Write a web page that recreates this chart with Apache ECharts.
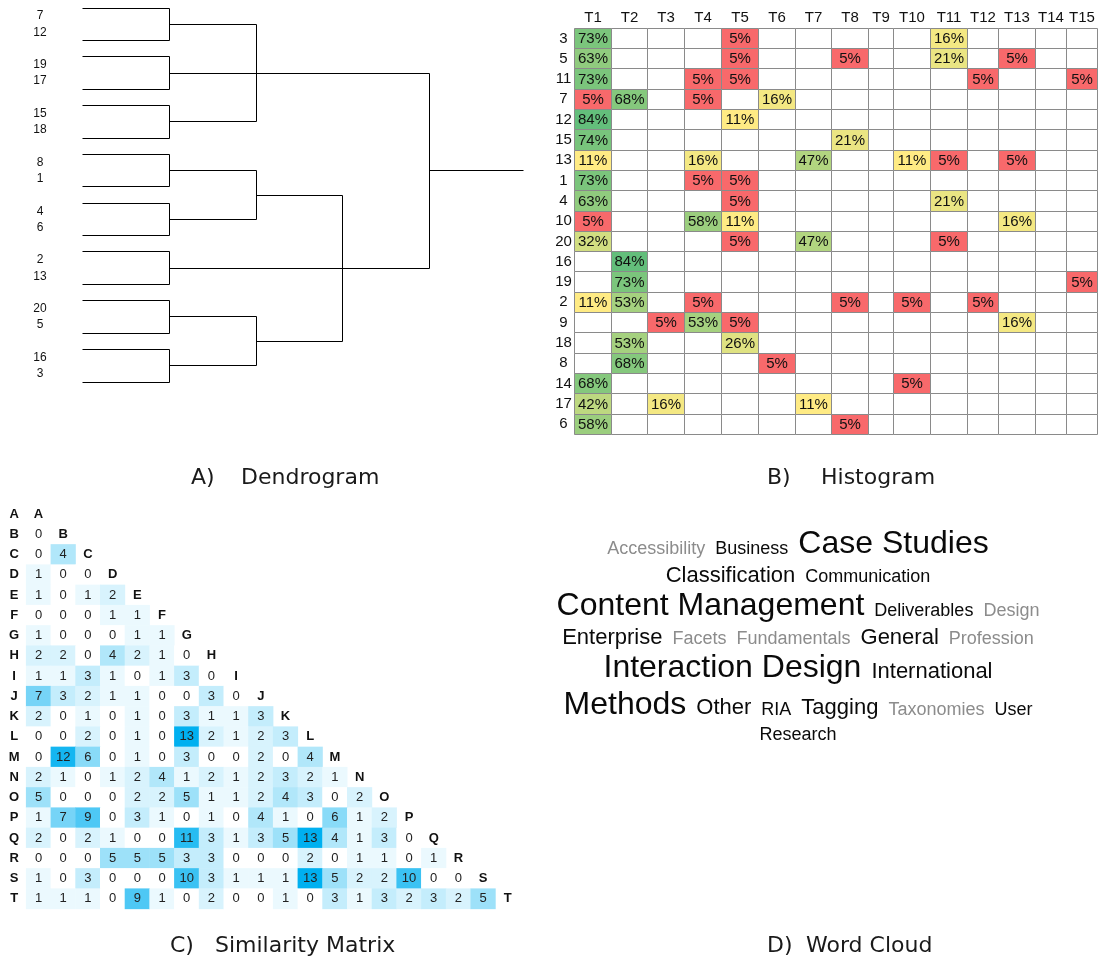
<!DOCTYPE html>
<html><head><meta charset="utf-8">
<script src="https://cdn.jsdelivr.net/npm/echarts@6/dist/echarts.min.js"></script>
<style>html,body{margin:0;padding:0;background:#fff;} #c{width:1099px;height:960px;}</style>
</head><body><div id="c"></div>
<script>
// ================= DATA =================
// A) Dendrogram
const dendroLeaves = ['7','12','19','17','15','18','8','1','4','6','2','13','20','5','16','3'];
const dendroTree = {h:4, c:[
  {h:2, c:[ {h:2, c:[ {h:1, c:['7','12']}, {h:1, c:['15','18']} ]}, {h:1, c:['19','17']} ]},
  {h:3, c:[ {h:3, c:[ {h:2, c:[ {h:1, c:['8','1']}, {h:1, c:['4','6']} ]},
                      {h:2, c:[ {h:1, c:['20','5']}, {h:1, c:['16','3']} ]} ]},
            {h:1, c:['2','13']} ]}
]};

// B) Histogram
const histCols = ['T1','T2','T3','T4','T5','T6','T7','T8','T9','T10','T11','T12','T13','T14','T15'];
const histRows = ['3','5','11','7','12','15','13','1','4','10','20','16','19','2','9','18','8','14','17','6'];
const _ = null;
const histValues = [
  [73,_,_,_,5,_,_,_,_,_,16,_,_,_,_],
  [63,_,_,_,5,_,_,5,_,_,21,_,5,_,_],
  [73,_,_,5,5,_,_,_,_,_,_,5,_,_,5],
  [5,68,_,5,_,16,_,_,_,_,_,_,_,_,_],
  [84,_,_,_,11,_,_,_,_,_,_,_,_,_,_],
  [74,_,_,_,_,_,_,21,_,_,_,_,_,_,_],
  [11,_,_,16,_,_,47,_,_,11,5,_,5,_,_],
  [73,_,_,5,5,_,_,_,_,_,_,_,_,_,_],
  [63,_,_,_,5,_,_,_,_,_,21,_,_,_,_],
  [5,_,_,58,11,_,_,_,_,_,_,_,16,_,_],
  [32,_,_,_,5,_,47,_,_,_,5,_,_,_,_],
  [_,84,_,_,_,_,_,_,_,_,_,_,_,_,_],
  [_,73,_,_,_,_,_,_,_,_,_,_,_,_,5],
  [11,53,_,5,_,_,_,5,_,5,_,5,_,_,_],
  [_,_,5,53,5,_,_,_,_,_,_,_,16,_,_],
  [_,53,_,_,26,_,_,_,_,_,_,_,_,_,_],
  [_,68,_,_,_,5,_,_,_,_,_,_,_,_,_],
  [68,_,_,_,_,_,_,_,_,5,_,_,_,_,_],
  [42,_,16,_,_,_,11,_,_,_,_,_,_,_,_],
  [58,_,_,_,_,_,_,5,_,_,_,_,_,_,_]
];

// C) Similarity matrix (lower triangle, row by row)
const simLabels = ['A','B','C','D','E','F','G','H','I','J','K','L','M','N','O','P','Q','R','S','T'];
const simValues = [
  [],
  [0],
  [0,4],
  [1,0,0],
  [1,0,1,2],
  [0,0,0,1,1],
  [1,0,0,0,1,1],
  [2,2,0,4,2,1,0],
  [1,1,3,1,0,1,3,0],
  [7,3,2,1,1,0,0,3,0],
  [2,0,1,0,1,0,3,1,1,3],
  [0,0,2,0,1,0,13,2,1,2,3],
  [0,12,6,0,1,0,3,0,0,2,0,4],
  [2,1,0,1,2,4,1,2,1,2,3,2,1],
  [5,0,0,0,2,2,5,1,1,2,4,3,0,2],
  [1,7,9,0,3,1,0,1,0,4,1,0,6,1,2],
  [2,0,2,1,0,0,11,3,1,3,5,13,4,1,3,0],
  [0,0,0,5,5,5,3,3,0,0,0,2,0,1,1,0,1],
  [1,0,3,0,0,0,10,3,1,1,1,13,5,2,2,10,0,0],
  [1,1,1,0,9,1,0,2,0,0,1,0,3,1,3,2,3,2,5]
];

// D) Word cloud
const cloudWords = ['Accessibility','Business','Case Studies','Classification','Communication',
  'Content Management','Deliverables','Design','Enterprise','Facets','Fundamentals','General',
  'Profession','Interaction Design','International','Methods','Other','RIA','Tagging','Taxonomies','User','Research'];
const cloudLevel = [1,1,3,2,1, 3,1,1,2,1,1,2, 1,3,2,3,2,1,2,1,1,1];
const cloudMuted = [1,0,0,0,0, 0,0,1,0,1,1,0, 1,0,0,0,0,0,0,1,0,0];

// Captions
const captionTags = ['A)','B)','C)','D)'];
const captionNames = ['Dendrogram','Histogram','Similarity Matrix','Word Cloud'];

// ================= LAYOUT / STYLE =================
const FONT = '"Liberation Sans", Arial, sans-serif';
const CAP_FONT = '"DejaVu Sans", Verdana, sans-serif';
const colWidths = [37,36,37,37,37,37,36,37,25,37,37,31,37,31,31];
const colStart = []; colWidths.reduce((s,w,i)=>{colStart[i]=s; return s+w;},0);
const colTotal = colWidths.reduce((a,b)=>a+b,0);
const captionLayout = {tagX:[191,767,170,767], nameX:[241,821,215,806], y:[478,478,946,946]};
const cloudFontSizes = [18,22,32];
const CLOUD = {cx:798, top:528.8, gap:10, maxW:495, black:'#0a0a0a', gray:'#8c8c8c'};
const ROOT_STEM = 1.08, LABEL_PULL = 0.5;

// ================= BUILD: dendrogram =================
const leafY = {};
dendroLeaves.forEach((n,i)=>{ leafY[n] = Math.floor(i/2)*3 + (i%2)*2; });
const dSegs = [], dLabels = [];
function walk(node){
  if (typeof node === 'string') return {y: leafY[node], h:0, leaf:true, name:node};
  const kids = node.c.map(walk);
  const y = kids.reduce((s,k)=>s+k.y,0)/kids.length;
  kids.forEach(k=>{
    if (node.h > k.h) dSegs.push([k.h, k.y, node.h, k.y]);
    if (k.leaf) dLabels.push({name:k.name, y: y + (k.y - y)*LABEL_PULL});
  });
  const ys = kids.map(k=>k.y);
  const y0 = Math.min(...ys), y1 = Math.max(...ys);
  if (y1 > y0) dSegs.push([node.h, y0, node.h, y1]);
  return {y, h:node.h};
}
const root = walk(dendroTree);
dSegs.push([root.h, root.y, root.h + ROOT_STEM, root.y]);

// ================= BUILD: histogram =================
const histCells = [];
const allVals = [];
histValues.forEach((row,r)=>row.forEach((v,c)=>{ histCells.push({r,c,v}); if (v!=null) allVals.push(v); }));
const sortedVals = allVals.slice().sort((a,b)=>a-b);
const vMin = sortedVals[0], vMax = sortedVals[sortedVals.length-1];
const vMid = (function(){ const p=(sortedVals.length-1)*0.5, lo=Math.floor(p), hi=Math.ceil(p); return sortedVals[lo]+(sortedVals[hi]-sortedVals[lo])*(p-lo); })();
const RED=[248,105,107], YEL=[255,235,132], GRN=[99,190,123];
function mix(a,b,t){ return 'rgb('+a.map((x,i)=>Math.round(x+(b[i]-x)*t)).join(',')+')'; }
function histColor(v){
  if (v <= vMid) return mix(RED, YEL, vMid===vMin?1:(v-vMin)/(vMid-vMin));
  return mix(YEL, GRN, (v-vMid)/(vMax-vMid));
}

// ================= BUILD: similarity =================
const simData = [];
simValues.forEach((row,r)=>row.forEach((v,c)=>simData.push([c,r,v])));

// ================= BUILD: word cloud =================
function layoutCloud(){
  const ctx = document.createElement('canvas').getContext('2d');
  const items = cloudWords.map((w,i)=>{
    const fs = cloudFontSizes[cloudLevel[i]-1];
    ctx.font = fs+'px '+FONT;
    return {w, fs, width: ctx.measureText(w).width, color: cloudMuted[i]?CLOUD.gray:CLOUD.black};
  });
  const lines=[]; let cur=[], curW=0;
  items.forEach(it=>{
    const add = cur.length ? CLOUD.gap+it.width : it.width;
    if (cur.length && curW+add > CLOUD.maxW){ lines.push(cur); cur=[it]; curW=it.width; }
    else { cur.push(it); curW+=add; }
  });
  if (cur.length) lines.push(cur);
  const els=[]; let top=CLOUD.top;
  lines.forEach(line=>{
    const maxFs = Math.max(...line.map(t=>t.fs));
    const base = top + 0.82*maxFs;
    const total = line.reduce((s,t)=>s+t.width,0) + CLOUD.gap*(line.length-1);
    let x = CLOUD.cx - total/2;
    line.forEach(t=>{
      els.push({type:'text', x:x, y: base - 0.3465*t.fs, silent:true,
        style:{text:t.w, font: t.fs+'px '+FONT, fill:t.color, align:'left', verticalAlign:'middle'}});
      x += t.width + CLOUD.gap;
    });
    top += 1.15*maxFs;
  });
  return els;
}

const captionEls = [];
captionTags.forEach((t,i)=>{
  captionEls.push({type:'text', x:captionLayout.tagX[i], y:captionLayout.y[i], silent:true,
    style:{text:t, font:'22px '+CAP_FONT, fill:'#1a1a1a', align:'left', verticalAlign:'middle'}});
  captionEls.push({type:'text', x:captionLayout.nameX[i], y:captionLayout.y[i], silent:true,
    style:{text:captionNames[i], font:'22px '+CAP_FONT, fill:'#1a1a1a', align:'left', verticalAlign:'middle'}});
});

function crisp(v){ return Math.round(v - 0.5) + 0.5; }

// ================= CHART =================
const chart = echarts.init(document.getElementById('c'), null, {renderer:'canvas'});
chart.setOption({
  animation:false,
  backgroundColor:'#fff',
  textStyle:{fontFamily:FONT},
  grid:[
    {left:82.5, top:8, width:441, height:374},
    {left:574.5, top:28.3, width:colTotal, height:406},
    {left:26.15, top:503.9, width:494, height:405}
  ],
  xAxis:[
    {gridIndex:0, type:'value', min:0, max:dendroTree.h+ROOT_STEM, show:false},
    {gridIndex:1, type:'value', min:0, max:colTotal, show:false},
    {gridIndex:2, type:'category', data:simLabels, show:false}
  ],
  yAxis:[
    {gridIndex:0, type:'value', min:0, max:(dendroLeaves.length/2)*3-1, inverse:true, show:false},
    {gridIndex:1, type:'category', data:histRows, inverse:true,
      axisLine:{show:false}, axisTick:{show:false}, splitLine:{show:false},
      axisLabel:{fontSize:15, color:'#111', align:'center', margin:11, fontFamily:FONT}},
    {gridIndex:2, type:'category', data:simLabels, inverse:true,
      axisLine:{show:false}, axisTick:{show:false}, splitLine:{show:false},
      axisLabel:{fontSize:13, fontWeight:'bold', color:'#111', align:'center', margin:12, fontFamily:FONT}}
  ],
  visualMap:[{type:'continuous', show:false, seriesIndex:4, dimension:2, min:0, max:13,
    inRange:{color:['#ffffff','#00b0f0']}}],
  series:[
    { // 0 dendrogram segments
      type:'custom', xAxisIndex:0, yAxisIndex:0, silent:true, clip:false,
      data:dSegs,
      encode:{x:[0,2], y:[1,3]},
      renderItem:function(params, api){
        const a = api.coord([api.value(0), api.value(1)]);
        const b = api.coord([api.value(2), api.value(3)]);
        return {type:'line', shape:{x1:crisp(a[0]), y1:crisp(a[1]), x2:crisp(b[0]), y2:crisp(b[1])},
          style:{stroke:'#000', lineWidth:1}};
      }
    },
    { // 1 dendrogram leaf labels
      type:'custom', xAxisIndex:0, yAxisIndex:0, silent:true, clip:false,
      data:dLabels.map(l=>[0, l.y]),
      encode:{x:0, y:1},
      renderItem:function(params, api){
        const p = api.coord([0, api.value(1)]);
        return {type:'text', x:p[0]-42.5, y:p[1],
          style:{text:dLabels[params.dataIndex].name, font:'12px '+FONT, fill:'#111', align:'center', verticalAlign:'middle'}};
      }
    },
    { // 2 histogram cells
      type:'custom', xAxisIndex:1, yAxisIndex:1, silent:true, clip:false,
      data:histCells.map(c=>[colStart[c.c], c.r]),
      encode:{x:0, y:1},
      renderItem:function(params, api){
        const cell = histCells[params.dataIndex];
        const p0 = api.coord([colStart[cell.c], cell.r]);
        const p1 = api.coord([colStart[cell.c]+colWidths[cell.c], cell.r]);
        const bh = api.size([0,1])[1];
        const x0 = crisp(p0[0]), x1 = crisp(p1[0]);
        const y0 = crisp(p0[1]-bh/2), y1 = crisp(p0[1]+bh/2);
        const ch = [{type:'rect', shape:{x:x0, y:y0, width:x1-x0, height:y1-y0},
          style:{fill: cell.v==null ? '#ffffff' : histColor(cell.v), stroke:'#8a8a8a', lineWidth:1}}];
        if (cell.v != null) ch.push({type:'text', x:(x0+x1)/2, y:(y0+y1)/2+0.5,
          style:{text:cell.v+'%', font:'15px '+FONT, fill:'#111', align:'center', verticalAlign:'middle'}});
        return {type:'group', children:ch};
      }
    },
    { // 3 histogram column headers
      type:'custom', xAxisIndex:1, yAxisIndex:1, silent:true, clip:false,
      data:histCols.map((c,i)=>[colStart[i]+colWidths[i]/2, 0]),
      encode:{x:0, y:1},
      renderItem:function(params, api){
        const p = api.coord([api.value(0), 0]);
        const bh = api.size([0,1])[1];
        return {type:'text', x:p[0], y:p[1]-bh,
          style:{text:histCols[params.dataIndex], font:'15px '+FONT, fill:'#111', align:'center', verticalAlign:'middle'}};
      }
    },
    { // 4 similarity heatmap
      type:'heatmap', xAxisIndex:2, yAxisIndex:2, silent:true,
      data:simData,
      label:{show:true, fontSize:13, color:'#222', fontFamily:FONT, formatter:p=>String(p.value[2])},
      emphasis:{disabled:true}
    },
    { // 5 diagonal letters
      type:'custom', xAxisIndex:2, yAxisIndex:2, silent:true, clip:false,
      data:simLabels.map((l,i)=>[i,i]),
      renderItem:function(params, api){
        const p = api.coord([api.value(0), api.value(1)]);
        return {type:'text', x:p[0], y:p[1],
          style:{text:simLabels[params.dataIndex], font:'bold 13px '+FONT, fill:'#111', align:'center', verticalAlign:'middle'}};
      }
    }
  ],
  graphic: captionEls.concat(layoutCloud())
});
</script></body></html>
